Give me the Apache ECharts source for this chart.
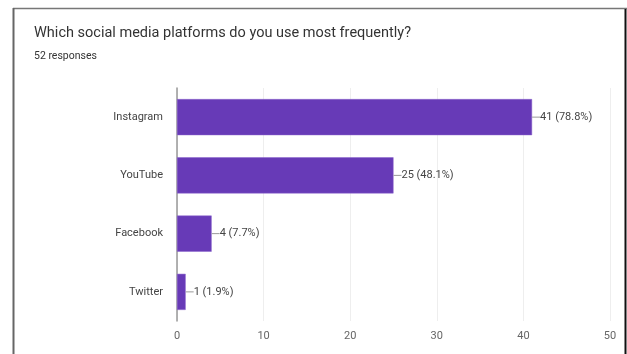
<!DOCTYPE html>
<html><head><meta charset="utf-8">
<script src="https://cdn.jsdelivr.net/npm/echarts@6/dist/echarts.min.js"></script>
<style>html,body{margin:0;padding:0;background:#fff}#c{width:627px;height:354px}</style>
</head><body><div id="c"></div>
<script>
const categories = ['Instagram', 'YouTube', 'Facebook', 'Twitter'];
const counts = [41, 25, 4, 1];
const percents = ['78.8%', '48.1%', '7.7%', '1.9%'];
const xTicks = [0, 10, 20, 30, 40, 50];
const titleText = 'Which social media platforms do you use most frequently?';
const subtitleText = '52 responses';

const chart = echarts.init(document.getElementById('c'), null, {renderer: 'canvas'});
chart.setOption({
  animation: false,
  title: {
    text: titleText, subtext: subtitleText, left: 29, top: 21, itemGap: 10,
    textStyle: {fontFamily: 'Roboto', fontSize: 14.5, fontWeight: 'normal', color: '#333'},
    subtextStyle: {fontFamily: 'Roboto', fontSize: 10.5, color: '#333'}
  },
  grid: {left: 177, right: 17, top: 88, bottom: 33},
  xAxis: {
    type: 'value', min: xTicks[0], max: xTicks[xTicks.length - 1], interval: 10,
    axisLine: {show: false}, axisTick: {show: false},
    splitLine: {lineStyle: {color: '#eeeeee'}},
    axisLabel: {color: '#666', fontFamily: 'Roboto', fontSize: 11, margin: 10}
  },
  yAxis: {
    type: 'category', data: categories, inverse: true,
    axisLine: {show: true, lineStyle: {color: '#999', width: 1.5}}, axisTick: {show: false},
    axisLabel: {color: '#444', fontFamily: 'Roboto', fontSize: 11, margin: 14}
  },
  series: [{
    type: 'bar', data: counts, barWidth: '62%',
    itemStyle: {color: '#673ab7', borderColor: '#8a62cc', borderWidth: 0.5},
    label: {
      show: true, position: 'right', distance: 0,
      formatter: p => '{ln|}' + counts[p.dataIndex] + ' (' + percents[p.dataIndex] + ')',
      color: '#444', fontFamily: 'Roboto', fontSize: 11,
      rich: {ln: {width: 8, height: 1, backgroundColor: '#999', padding: 0}}
    }
  }],
  graphic: [
    {type: 'line', shape: {x1: 13, y1: 8.5, x2: 627, y2: 8.5}, style: {stroke: '#777', lineWidth: 1.5}, silent: true},
    {type: 'line', shape: {x1: 13.5, y1: 8, x2: 13.5, y2: 354}, style: {stroke: '#666', lineWidth: 2}, silent: true},
    {type: 'line', shape: {x1: 625.5, y1: 9, x2: 625.5, y2: 354}, style: {stroke: '#111', lineWidth: 2}, silent: true}
  ]
});
</script></body></html>
